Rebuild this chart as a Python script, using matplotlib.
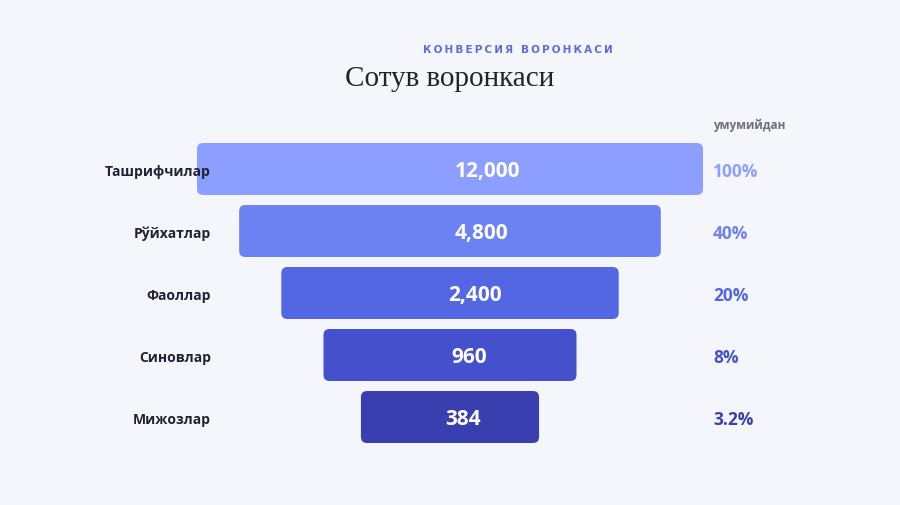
"""Sales funnel chart (Uzbek Cyrillic labels)."""
import matplotlib
matplotlib.use("Agg")
import matplotlib.pyplot as plt
from matplotlib.patches import FancyBboxPatch

# data
stages = ["Ташрифчилар", "Рўйхатлар", "Фаоллар", "Синовлар", "Мижозлар"]
counts = [12000, 4800, 2400, 960, 384]
pct_labels = ["100%", "40%", "20%", "8%", "3.2%"]
colors = ["#8c9eff", "#6d82f2", "#5366e4", "#4450cc", "#3a3fb0"]

BG = "#f5f6fb"
SANS = ["Open Sans", "DejaVu Sans"]

W, H = 900, 506
fig = plt.figure(figsize=(W / 100, H / 100), dpi=100, facecolor=BG)

# axes spans the whole figure; x in units of the widest bar, y in stage index
ax = fig.add_axes([0, 0, 1, 1])
ax.set_facecolor(BG)
full_px = 506.0   # widest bar in pixels
step_px = 62.0    # vertical distance between bars
first_px = 170.0  # centre of first bar
ax.set_xlim(-450 / full_px, 450 / full_px)
ax.set_ylim((H - first_px) / step_px, -first_px / step_px)
ax.axis("off")

bar_h = 52 / step_px
aspect = full_px / step_px
dy = 2 / step_px  # small nudge so text sits optically centred

def px_x(p):
    return (p - 450) / full_px

for i, (name, n, pct, c) in enumerate(zip(stages, counts, pct_labels, colors)):
    w = max(1 - i / 6, 0.352)
    box = FancyBboxPatch((-w / 2, i - bar_h / 2), w, bar_h,
                         boxstyle="round,pad=0,rounding_size=0.012",
                         mutation_aspect=aspect, fc=c, ec="none", zorder=2)
    ax.add_patch(box)
    # value label sits a bit right of the bar centre, as in the original
    ax.text(0.074 * w, i + dy, f"{n:,}", ha="center", va="center", color="white",
            fontsize=15, fontweight="bold", family=SANS, zorder=3)
    ax.text(px_x(211), i + dy, name, ha="right", va="center", color="#1f2233",
            fontsize=10, fontweight="bold", family=SANS, zorder=3)
    ax.text(px_x(713), i + dy, pct, ha="left", va="center", color=c,
            fontsize=12.5, fontweight="bold", family=SANS)

ax.text(px_x(713), (125 - first_px) / step_px, "умумийдан", ha="left",
        va="center", color="#6b6f80", fontsize=8.5, fontweight="bold", family=SANS)

# headings
sub = "\u2009".join("КОНВЕРСИЯ ВОРОНКАСИ")
fig.text(518 / W, 1 - 50 / H, sub, ha="center", va="center", color="#5b6be0",
         fontsize=7.5, fontweight="bold", family=["DejaVu Sans"])
fig.text(450 / W, 1 - 79 / H, "Сотув воронкаси", ha="center", va="center",
         color="#23232b", fontsize=21, family=["Liberation Serif", "DejaVu Serif"])

fig.savefig("out.png", dpi=100, facecolor=BG)
